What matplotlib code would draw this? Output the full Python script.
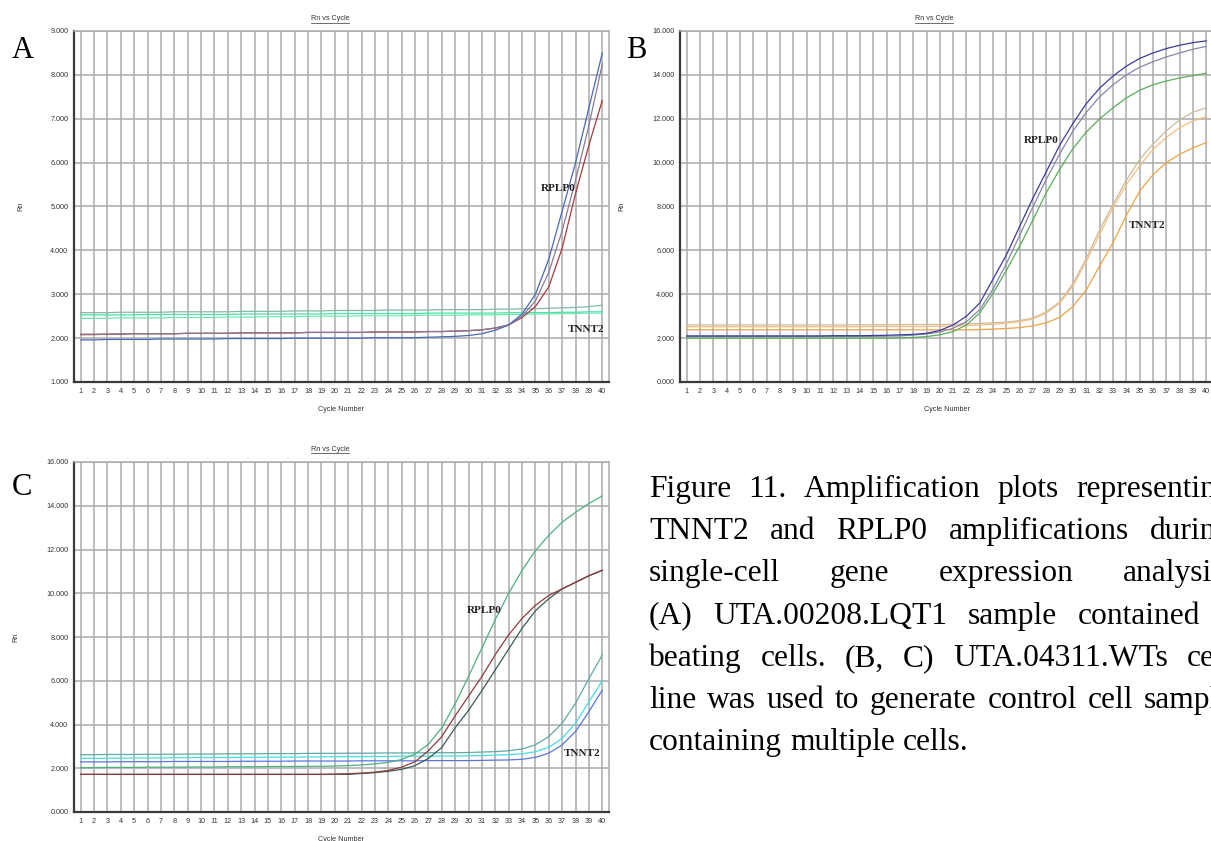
import numpy as np
import matplotlib
matplotlib.use("Agg")
import matplotlib.pyplot as plt
from matplotlib.lines import Line2D

cycles = list(range(1, 41))

# ---- panel A (UTA.00208.LQT1), Rn per cycle ----
a_rplp0_blue = [1.96, 1.96, 1.97, 1.97, 1.97, 1.97, 1.98, 1.98, 1.98, 1.98,
                1.98, 1.99, 1.99, 1.99, 1.99, 1.99, 2.00, 2.00, 2.00, 2.00,
                2.00, 2.00, 2.01, 2.01, 2.01, 2.01, 2.02, 2.03, 2.04, 2.06,
                2.10, 2.18, 2.30, 2.55, 3.00, 3.80, 4.90, 6.00, 7.25, 8.50]
a_rplp0_mauve = [2.09, 2.09, 2.09, 2.10, 2.10, 2.10, 2.10, 2.10, 2.11, 2.11,
                 2.11, 2.11, 2.12, 2.12, 2.12, 2.12, 2.12, 2.13, 2.13, 2.13,
                 2.13, 2.13, 2.14, 2.14, 2.14, 2.14, 2.15, 2.15, 2.16, 2.17,
                 2.19, 2.23, 2.30, 2.50, 2.85, 3.50, 4.45, 5.60, 6.85, 8.25]
a_rplp0_red = [2.08, 2.08, 2.09, 2.09, 2.10, 2.10, 2.10, 2.10, 2.11, 2.11,
               2.11, 2.11, 2.12, 2.12, 2.12, 2.12, 2.12, 2.13, 2.13, 2.13,
               2.13, 2.13, 2.14, 2.14, 2.14, 2.14, 2.15, 2.15, 2.16, 2.17,
               2.19, 2.23, 2.30, 2.47, 2.72, 3.17, 4.05, 5.30, 6.40, 7.42]
a_tnnt2_teal = [2.58, 2.58, 2.58, 2.59, 2.59, 2.59, 2.59, 2.60, 2.60, 2.60,
                2.60, 2.60, 2.61, 2.61, 2.61, 2.61, 2.62, 2.62, 2.62, 2.63,
                2.63, 2.63, 2.63, 2.64, 2.64, 2.64, 2.64, 2.65, 2.65, 2.65,
                2.65, 2.66, 2.66, 2.67, 2.67, 2.68, 2.69, 2.70, 2.72, 2.75]
a_tnnt2_green1 = [2.53, 2.53, 2.53, 2.53, 2.53, 2.54, 2.54, 2.54, 2.54, 2.54,
                  2.54, 2.54, 2.55, 2.55, 2.55, 2.55, 2.55, 2.55, 2.55, 2.56,
                  2.56, 2.56, 2.56, 2.56, 2.56, 2.56, 2.57, 2.57, 2.57, 2.57,
                  2.57, 2.57, 2.58, 2.58, 2.58, 2.58, 2.59, 2.59, 2.60, 2.60]
a_tnnt2_green2 = [2.45, 2.45, 2.45, 2.46, 2.46, 2.46, 2.46, 2.47, 2.47, 2.47,
                  2.47, 2.48, 2.48, 2.48, 2.49, 2.49, 2.49, 2.50, 2.50, 2.50,
                  2.50, 2.51, 2.51, 2.51, 2.51, 2.52, 2.52, 2.52, 2.52, 2.53,
                  2.53, 2.53, 2.54, 2.54, 2.55, 2.55, 2.56, 2.56, 2.57, 2.57]

# ---- panel B (UTA.04311.WTs) ----
b_rplp0_indigo = [2.10, 2.10, 2.10, 2.10, 2.10, 2.10, 2.10, 2.10, 2.10, 2.10,
                  2.10, 2.11, 2.11, 2.11, 2.12, 2.13, 2.15, 2.17, 2.22, 2.35,
                  2.60, 3.00, 3.60, 4.70, 5.80, 7.10, 8.40, 9.60, 10.80, 11.80,
                  12.70, 13.40, 13.95, 14.40, 14.75, 15.00, 15.20, 15.35, 15.47, 15.55]
b_rplp0_grey = [2.08, 2.08, 2.08, 2.08, 2.08, 2.08, 2.08, 2.08, 2.08, 2.08,
                2.08, 2.08, 2.08, 2.08, 2.08, 2.09, 2.10, 2.14, 2.19, 2.28,
                2.45, 2.75, 3.30, 4.25, 5.40, 6.70, 8.00, 9.25, 10.40, 11.45,
                12.30, 13.00, 13.55, 14.00, 14.35, 14.60, 14.82, 15.00, 15.17, 15.30]
b_rplp0_green = [2.00, 2.00, 2.00, 2.00, 2.00, 2.00, 2.00, 2.00, 2.00, 2.00,
                 2.00, 2.00, 2.00, 2.00, 2.00, 2.00, 2.01, 2.03, 2.07, 2.15,
                 2.30, 2.60, 3.15, 4.05, 5.10, 6.20, 7.40, 8.65, 9.70, 10.65,
                 11.40, 12.00, 12.50, 12.95, 13.30, 13.55, 13.72, 13.86, 13.97, 14.07]
b_tnnt2_tan = [2.60, 2.60, 2.60, 2.60, 2.60, 2.60, 2.60, 2.60, 2.60, 2.60,
               2.60, 2.60, 2.60, 2.61, 2.61, 2.61, 2.61, 2.62, 2.62, 2.62,
               2.63, 2.65, 2.67, 2.70, 2.73, 2.80, 2.92, 3.20, 3.65, 4.50,
               5.65, 6.95, 8.10, 9.20, 10.15, 10.85, 11.45, 11.95, 12.30, 12.50]
b_tnnt2_lightorange = [2.52, 2.52, 2.52, 2.52, 2.52, 2.52, 2.52, 2.52, 2.52, 2.52,
                       2.52, 2.52, 2.52, 2.52, 2.53, 2.53, 2.53, 2.53, 2.53, 2.54,
                       2.55, 2.57, 2.60, 2.63, 2.68, 2.75, 2.88, 3.15, 3.60, 4.40,
                       5.50, 6.75, 7.95, 9.00, 9.85, 10.60, 11.15, 11.60, 11.90, 12.10]
b_tnnt2_orange = [2.38, 2.38, 2.38, 2.38, 2.38, 2.38, 2.38, 2.38, 2.38, 2.38,
                  2.38, 2.38, 2.38, 2.38, 2.38, 2.38, 2.38, 2.38, 2.38, 2.38,
                  2.38, 2.38, 2.39, 2.41, 2.44, 2.48, 2.56, 2.70, 2.95, 3.45,
                  4.20, 5.30, 6.35, 7.60, 8.70, 9.45, 10.00, 10.38, 10.67, 10.92]

# ---- panel C (UTA.04311.WTs) ----
c_rplp0_green = [2.03, 2.03, 2.04, 2.04, 2.04, 2.05, 2.05, 2.05, 2.06, 2.06,
                 2.06, 2.07, 2.07, 2.07, 2.08, 2.08, 2.08, 2.09, 2.09, 2.10,
                 2.12, 2.15, 2.20, 2.27, 2.40, 2.65, 3.10, 3.85, 4.95, 6.20,
                 7.50, 8.80, 10.00, 11.05, 11.95, 12.65, 13.25, 13.70, 14.10, 14.45]
c_rplp0_red = [1.72, 1.72, 1.72, 1.72, 1.72, 1.72, 1.72, 1.72, 1.72, 1.72,
               1.72, 1.72, 1.72, 1.72, 1.72, 1.72, 1.72, 1.72, 1.72, 1.73,
               1.75, 1.78, 1.82, 1.90, 2.05, 2.30, 2.80, 3.45, 4.40, 5.30,
               6.20, 7.20, 8.10, 8.85, 9.45, 9.90, 10.20, 10.50, 10.80, 11.05]
c_rplp0_slate = [1.72, 1.72, 1.72, 1.72, 1.72, 1.72, 1.72, 1.72, 1.72, 1.72,
                 1.72, 1.72, 1.72, 1.72, 1.72, 1.72, 1.72, 1.72, 1.72, 1.72,
                 1.72, 1.76, 1.80, 1.86, 1.95, 2.12, 2.45, 2.95, 3.85, 4.65,
                 5.55, 6.50, 7.45, 8.40, 9.20, 9.75, 10.20, 10.50, 10.80, 11.05]
c_tnnt2_teal = [2.62, 2.62, 2.63, 2.63, 2.63, 2.64, 2.64, 2.64, 2.65, 2.65,
                2.65, 2.66, 2.66, 2.66, 2.67, 2.67, 2.67, 2.68, 2.68, 2.68,
                2.69, 2.69, 2.69, 2.70, 2.70, 2.70, 2.71, 2.71, 2.71, 2.72,
                2.74, 2.76, 2.80, 2.88, 3.07, 3.45, 4.06, 4.97, 6.10, 7.18]
c_tnnt2_cyan = [2.45, 2.45, 2.46, 2.46, 2.47, 2.47, 2.47, 2.48, 2.48, 2.49,
                2.49, 2.49, 2.50, 2.50, 2.51, 2.51, 2.51, 2.52, 2.52, 2.53,
                2.53, 2.53, 2.54, 2.54, 2.55, 2.55, 2.55, 2.56, 2.56, 2.57,
                2.58, 2.60, 2.62, 2.66, 2.76, 2.96, 3.37, 4.06, 5.04, 6.00]
c_tnnt2_blue = [2.29, 2.29, 2.29, 2.30, 2.30, 2.30, 2.30, 2.31, 2.31, 2.31,
                2.31, 2.31, 2.32, 2.32, 2.32, 2.32, 2.33, 2.33, 2.33, 2.33,
                2.33, 2.34, 2.34, 2.34, 2.34, 2.34, 2.35, 2.35, 2.35, 2.35,
                2.36, 2.37, 2.38, 2.41, 2.50, 2.69, 3.07, 3.68, 4.59, 5.58]

caption_lines = [
    "Figure 11. Amplification plots representing",
    "TNNT2 and RPLP0 amplifications during",
    "single-cell gene expression analysis.",
    "(A) UTA.00208.LQT1 sample contained",
    "beating cells. (B, C) UTA.04311.WTs cell",
    "line was used to generate control cell samples",
    "containing multiple cells.",
]

W, H = 1211, 841
fig = plt.figure(figsize=(W / 100, H / 100), dpi=100)
fig.patch.set_facecolor("white")

tick_font = "Liberation Sans"
serif = "Liberation Serif"


def px_axes(left, top, right, bottom):
    return fig.add_axes([left / W, 1 - bottom / H, (right - left) / W, (bottom - top) / H])


def style(ax, ymax, ystep):
    ax.set_xlim(0.5, 40.5)
    ax.set_ylim(ymax - 8 * ystep, ymax)
    ax.set_xticks(cycles)
    yt = np.arange(ymax - 8 * ystep, ymax + ystep / 2, ystep)
    ax.set_yticks(yt)
    ax.set_yticklabels([f"{v:.3f}" for v in yt])
    ax.grid(True, color="#ababab", lw=1.1)
    ax.set_axisbelow(True)
    ax.tick_params(length=0, labelsize=5.2, pad=4, colors="#333333")
    for lab in ax.get_xticklabels() + ax.get_yticklabels():
        lab.set_family(tick_font)
    for s in ("left", "bottom"):
        ax.spines[s].set_color("#3a3a3a")
        ax.spines[s].set_linewidth(1.6)
    for s in ("top", "right"):
        ax.spines[s].set_color("#ababab")
        ax.spines[s].set_linewidth(1.1)
    ax.set_ylabel("Rn", fontsize=5.2, family=tick_font, labelpad=19, color="#333333")
    ax.set_xlabel("Cycle Number", fontsize=5.2, family=tick_font, labelpad=8, color="#333333")


def gene_label(ax, x, y, text):
    ax.text(x, y, text, fontsize=8, family=serif, fontweight="bold", color="#222222")


# panel A
ax_a = px_axes(74, 31, 609, 382)
style(ax_a, 9, 1)
ax_a.plot(cycles, a_tnnt2_teal, color="#86b8a6", lw=0.9)
ax_a.plot(cycles, a_tnnt2_green1, color="#4fe0a4", lw=0.9)
ax_a.plot(cycles, a_tnnt2_green2, color="#6eeab8", lw=0.9)
ax_a.plot(cycles, a_rplp0_red, color="#a83a3a", lw=0.9)
ax_a.plot(cycles, a_rplp0_mauve, color="#8a7a96", lw=0.9)
ax_a.plot(cycles, a_rplp0_blue, color="#4a68b8", lw=0.9)
gene_label(ax_a, 35.4, 5.35, "RPLP0")
gene_label(ax_a, 37.4, 2.15, "TNNT2")

# panel B
ax_b = px_axes(680, 31, 1213, 382)
style(ax_b, 16, 2)
ax_b.plot(cycles, b_tnnt2_tan, color="#c9bb9e", lw=0.9)
ax_b.plot(cycles, b_tnnt2_lightorange, color="#f6bd80", lw=0.9)
ax_b.plot(cycles, b_tnnt2_orange, color="#eea445", lw=0.9)
ax_b.plot(cycles, b_rplp0_green, color="#5aae5a", lw=0.9)
ax_b.plot(cycles, b_rplp0_grey, color="#8686aa", lw=0.9)
ax_b.plot(cycles, b_rplp0_indigo, color="#3c3c9c", lw=0.9)
gene_label(ax_b, 26.3, 10.9, "RPLP0")
gene_label(ax_b, 34.2, 7.0, "TNNT2")

# panel C
ax_c = px_axes(74, 462, 609, 812)
style(ax_c, 16, 2)
ax_c.plot(cycles, c_tnnt2_teal, color="#5faaa4", lw=0.9)
ax_c.plot(cycles, c_tnnt2_cyan, color="#46dbe4", lw=0.9)
ax_c.plot(cycles, c_tnnt2_blue, color="#5c74e2", lw=0.9)
ax_c.plot(cycles, c_rplp0_green, color="#4fb07e", lw=0.9)
ax_c.plot(cycles, c_rplp0_slate, color="#3c5a5a", lw=0.9)
ax_c.plot(cycles, c_rplp0_red, color="#8e3c3c", lw=0.9)
gene_label(ax_c, 29.85, 9.1, "RPLP0")
gene_label(ax_c, 37.1, 2.55, "TNNT2")

# chart titles (underlined) and panel letters
fig.canvas.draw()
renderer = fig.canvas.get_renderer()
for cx, cy in [(330, 19), (934, 19), (330, 449)]:
    t = fig.text(cx / W, 1 - cy / H, "Rn vs Cycle", fontsize=5.2, family=tick_font,
                 ha="center", va="center", color="#333333")
    bb = t.get_window_extent(renderer)
    fig.add_artist(Line2D([bb.x0 / W, bb.x1 / W], [(bb.y0 - 0.5) / H] * 2,
                          color="#333333", lw=0.5))

for lx, ly, letter in [(23, 50, "A"), (636, 51, "B"), (22, 487, "C")]:
    fig.text(lx / W, 1 - ly / H, letter, fontsize=22, family=serif, ha="center", va="center")

# caption, justified word by word (the column runs past the right edge)
cap_size = 22.7
cap_left = 649
cap_rights = [1232, 1232, 1232, 1200, 1232, 1245, None]
probe = fig.text(0, 0, "a a", fontsize=cap_size, family=serif, alpha=0)
probe1 = fig.text(0, 0, "aa", fontsize=cap_size, family=serif, alpha=0)
space = probe.get_window_extent(renderer).width - probe1.get_window_extent(renderer).width
probe.remove()
probe1.remove()
for i, line in enumerate(caption_lines):
    y = 1 - (497 + 42.2 * i) / H
    words = line.split(" ")
    texts = [fig.text(0, y, w, fontsize=cap_size, family=serif, va="baseline") for w in words]
    widths = [t.get_window_extent(renderer).width for t in texts]
    right = cap_rights[i]
    if right is None:
        gap = space
    else:
        gap = (right - cap_left - sum(widths)) / (len(words) - 1)
    x = cap_left
    for t, w in zip(texts, widths):
        t.set_x(x / W)
        x += w + gap

fig.savefig("out.png", dpi=100)
